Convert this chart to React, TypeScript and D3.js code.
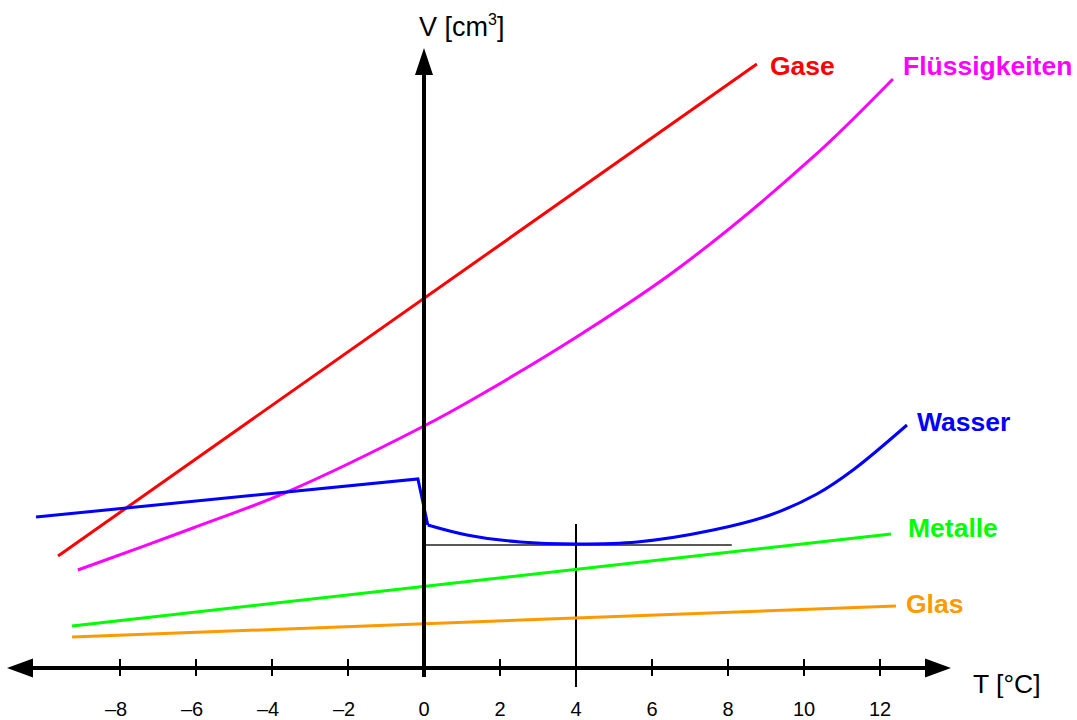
import React from "react";
import * as d3 from "d3";

// x: temperature T [°C], y: volume V (arbitrary units)
const xTicks = [-8, -6, -4, -2, 0, 2, 4, 6, 8, 10, 12];

const gase: [number, number][] = [
  [-9.63, 18.67],
  [8.76, 100.67],
];

const fluessigkeiten: [number, number][] = [
  [-9.11, 16.33],
  [-6.08, 23.33],
  [-3.61, 29.33],
  [0, 40.33],
  [1.39, 45.17],
  [4.18, 55.83],
  [6.74, 66.83],
  [10.24, 85.17],
  [12.34, 98.17],
];

const wasserEis: [number, number][] = [
  [-10.21, 25.17],
  [-0.16, 31.5],
  [0.1, 23.83],
];

const wasserFluessig: [number, number][] = [
  [0.1, 23.83],
  [1.13, 22.17],
  [2.53, 21.0],
  [4.03, 20.67],
  [5.61, 21.0],
  [7.61, 23.0],
  [9.11, 25.5],
  [10.34, 29.0],
  [11.29, 33.0],
  [12.71, 40.5],
];

const metalle: [number, number][] = [
  [-9.26, 7.0],
  [12.29, 22.33],
];

const glas: [number, number][] = [
  [-9.26, 5.17],
  [12.42, 10.33],
];

const minimumV = 20.5;
const minimumT = 4;

const x = d3.scaleLinear().domain([-10, 14]).range([44, 956]);
const y = d3.scaleLinear().domain([0, 100]).range([668, 68]);

const lin = d3
  .line<[number, number]>()
  .x((d) => x(d[0]))
  .y((d) => y(d[1]));
const smooth = d3
  .line<[number, number]>()
  .x((d) => x(d[0]))
  .y((d) => y(d[1]))
  .curve(d3.curveCatmullRom.alpha(0.5));

const FONT = "'Liberation Sans', Arial, Helvetica, sans-serif";

export default function App() {
  const x0 = x(0);
  const y0 = y(0);
  const labelSize = 26.5;
  return (
    <svg
      width={1077}
      height={720}
      style={{ position: "absolute", left: 0, top: 0, background: "#fff" }}
      fontFamily={FONT}
    >
      {/* reference lines */}
      <line
        x1={x(0)}
        x2={x(8.1)}
        y1={y(minimumV)}
        y2={y(minimumV)}
        stroke="#222"
        strokeWidth={1.5}
      />
      <line
        x1={x(minimumT)}
        x2={x(minimumT)}
        y1={y(24)}
        y2={y0 + 19}
        stroke="#000"
        strokeWidth={2}
      />

      {/* series */}
      <path d={lin(gase) || ""} fill="none" stroke="#ff0000" strokeWidth={3} />
      <path d={smooth(fluessigkeiten) || ""} fill="none" stroke="#ff00ff" strokeWidth={3} />
      <path d={lin(metalle) || ""} fill="none" stroke="#00ff00" strokeWidth={3} />
      <path d={lin(glas) || ""} fill="none" stroke="#ff9900" strokeWidth={3} />
      <path d={lin(wasserEis) || ""} fill="none" stroke="#0000ff" strokeWidth={3} strokeLinejoin="miter" />
      <path d={smooth(wasserFluessig) || ""} fill="none" stroke="#0000ff" strokeWidth={3} />

      {/* x axis */}
      <line x1={30} x2={928} y1={y0} y2={y0} stroke="#000" strokeWidth={4} />
      <polygon points={`7,${y0} 33,${y0 - 9.5} 33,${y0 + 9.5}`} fill="#000" />
      <polygon points={`951,${y0} 925,${y0 - 9.5} 925,${y0 + 9.5}`} fill="#000" />
      {xTicks.map((t) => (
        <g key={t}>
          {t !== 0 && t !== minimumT && (
            <line x1={x(t)} x2={x(t)} y1={y0 - 9} y2={y0 + 8} stroke="#000" strokeWidth={2} />
          )}
          <text
            x={x(t) + (t < 0 ? -4 : 0)}
            y={716}
            fontSize={20}
            textAnchor="middle"
            fill="#000"
          >
            {t < 0 ? `\u2013${Math.abs(t)}` : `${t}`}
          </text>
        </g>
      ))}
      <text x={973} y={693} fontSize={26.5} fill="#000">
        T [°C]
      </text>

      {/* y axis */}
      <line x1={x0} x2={x0} y1={y0 + 9} y2={72} stroke="#000" strokeWidth={4} />
      <polygon points={`${x0},48 ${x0 - 9},75 ${x0 + 9},75`} fill="#000" />
      <text x={419} y={36} fontSize={27} fill="#000">
        V [cm
        <tspan dy={-11} fontSize={16}>
          3
        </tspan>
        <tspan dy={11}>]</tspan>
      </text>

      {/* series labels */}
      <g fontWeight="bold" fontSize={labelSize}>
        <text x={770} y={75} fill="#ff0000">Gase</text>
        <text x={903} y={75} fill="#ff00ff">Flüssigkeiten</text>
        <text x={917} y={431} fill="#0000ff">Wasser</text>
        <text x={908} y={537} fill="#00ff00">Metalle</text>
        <text x={906} y={613} fill="#ff9900">Glas</text>
      </g>
    </svg>
  );
}
